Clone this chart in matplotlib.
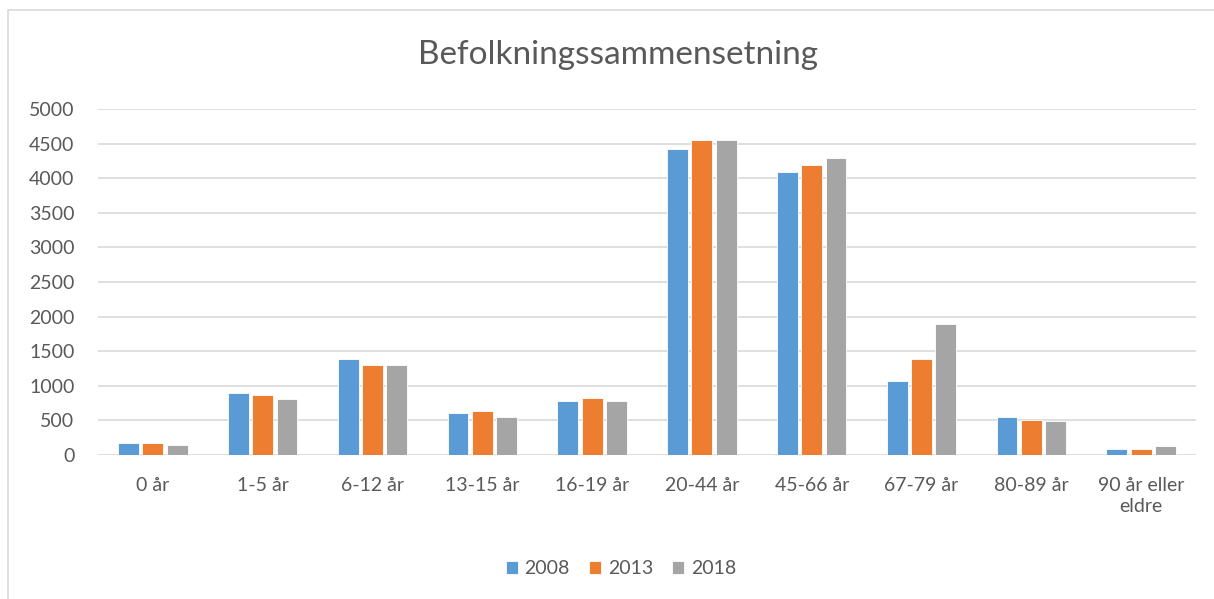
import numpy as np
import matplotlib.pyplot as plt
from matplotlib.patches import Rectangle

plt.rcParams['font.family'] = ['Lato', 'DejaVu Sans']

categories = ['0 år', '1-5 år', '6-12 år', '13-15 år', '16-19 år', '20-44 år',
              '45-66 år', '67-79 år', '80-89 år', '90 år eller\neldre']
years = ['2008', '2013', '2018']
v2008 = [178, 896, 1387, 602, 780, 4427, 4085, 1074, 545, 91]
v2013 = [173, 871, 1300, 631, 819, 4552, 4186, 1387, 511, 93]
v2018 = [140, 805, 1295, 553, 780, 4547, 4287, 1898, 487, 130]
colors = ['#5b9bd5', '#ed7d31', '#a5a5a5']

fig = plt.figure(figsize=(12.14, 5.99), dpi=100)
ax = fig.add_axes([98 / 1214, 1 - 455 / 599, 1098 / 1214, 346 / 599])

# light border round the whole chart
fig.patches.append(Rectangle((8 / 1214, -0.01), 1.0, 1.01 - 10 / 599,
                             transform=fig.transFigure, fill=False,
                             edgecolor='#d9d9d9', linewidth=1.2))

x = np.arange(len(categories))
pitch = 0.221
for i, (vals, lab, c) in enumerate(zip([v2008, v2013, v2018], years, colors)):
    ax.bar(x + (i - 1) * pitch, vals, width=0.19, color=c, label=lab,
           edgecolor='white', linewidth=0.6, zorder=3)

ax.set_xlim(-0.5, len(categories) - 0.5)
ax.set_ylim(0, 5000)
ax.set_yticks(range(0, 5001, 500))
ax.yaxis.grid(True, color='#d9d9d9', linewidth=1.2, zorder=0)
for s in ax.spines.values():
    s.set_visible(False)
ax.tick_params(length=0, labelsize=14, colors='#595959')
ax.tick_params(axis='y', pad=17)
ax.tick_params(axis='x', pad=16)
ax.set_xticks(x)
ax.set_xticklabels(categories, linespacing=1.3)

fig.text(618 / 1214, 1 - 55 / 599, 'Befolkningssammensetning', ha='center',
         va='center', fontsize=24, color='#595959')

leg = fig.legend(loc='center', bbox_to_anchor=(621 / 1214, 1 - 569 / 599),
                 ncol=3, frameon=False, fontsize=14, handlelength=0.6,
                 handleheight=0.6, handletextpad=0.35, columnspacing=1.0)
for t in leg.get_texts():
    t.set_color('#595959')

fig.savefig('out.png', dpi=100)
